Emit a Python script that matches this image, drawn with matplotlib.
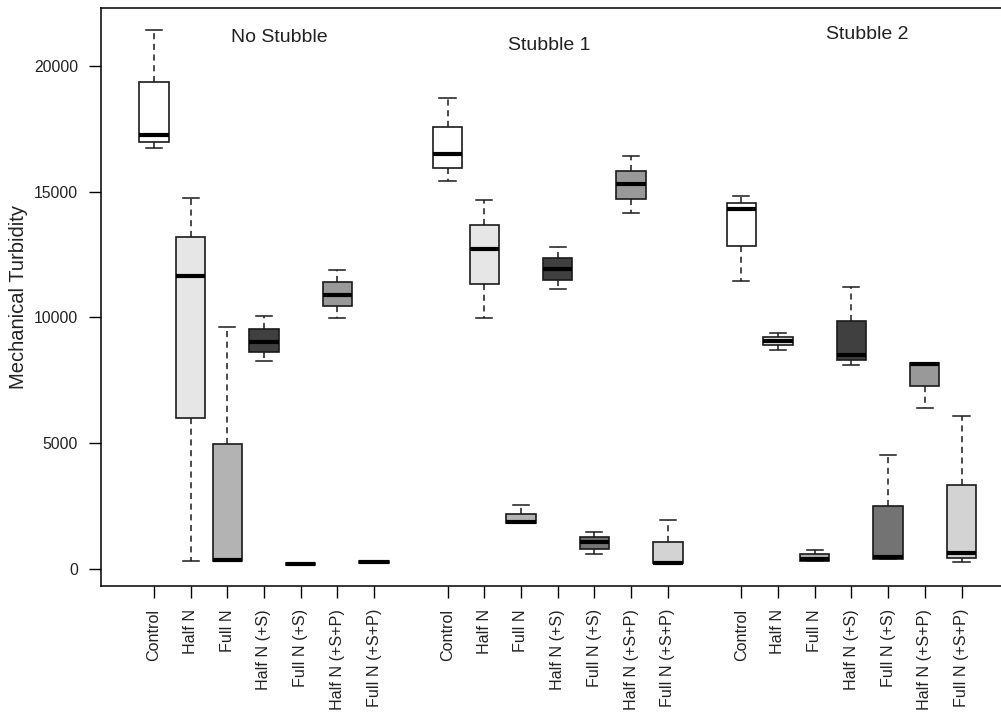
import matplotlib
matplotlib.use('Agg')
import matplotlib.pyplot as plt

plt.rcParams['font.family'] = ['Liberation Sans', 'DejaVu Sans']

treatments = ['Control', 'Half N', 'Full N', 'Half N (+S)', 'Full N (+S)',
              'Half N (+S+P)', 'Full N (+S+P)']
groups = ['No Stubble', 'Stubble 1', 'Stubble 2']
fills = ['#ffffff', '#e6e6e6', '#b3b3b3', '#404040', '#737373', '#999999', '#d3d3d3']

# five-number summaries, one list per group
# each row: whisker low, Q1, median, Q3, whisker high
no_stubble = [
    [16750, 16990, 17240, 19350, 21440],
    [310, 5990, 11650, 13200, 14740],
    [300, 330, 360, 4980, 9630],
    [8270, 8640, 9010, 9540, 10050],
    [160, 170, 200, 240, 250],
    [9990, 10450, 10890, 11400, 11900],
    [220, 230, 280, 320, 330],
]
stubble_1 = [
    [15440, 15940, 16500, 17590, 18740],
    [9990, 11330, 12710, 13690, 14680],
    [1820, 1840, 1850, 2200, 2540],
    [11150, 11490, 11920, 12350, 12790],
    [600, 800, 1060, 1280, 1480],
    [14170, 14700, 15300, 15840, 16430],
    [230, 240, 250, 1090, 1950],
]
stubble_2 = [
    [11440, 12840, 14310, 14550, 14840],
    [8710, 8920, 9080, 9240, 9400],
    [330, 330, 400, 600, 740],
    [8110, 8310, 8510, 9860, 11200],
    [400, 400, 460, 2500, 4530],
    [6390, 7290, 8140, 8180, 8200],
    [290, 430, 620, 3340, 6080],
]
all_groups = [no_stubble, stubble_1, stubble_2]
title_y = [21150, 20830, 21270]

fig = plt.figure(figsize=(10.01, 7.12), dpi=100)
ax = fig.add_axes([0.1009, 0.177, 0.9, 0.8118])

positions = []
stats = []
colors = []
labels = []
for g, rows in enumerate(all_groups):
    for i, r in enumerate(rows):
        positions.append(g * 8 + i + 1)
        stats.append(dict(whislo=r[0], q1=r[1], med=r[2], q3=r[3], whishi=r[4], fliers=[]))
        colors.append(fills[i])
        labels.append(treatments[i])

bp = ax.bxp(stats, positions=positions, widths=0.8, patch_artist=True,
            showfliers=False,
            boxprops=dict(edgecolor='#1a1a1a', linewidth=1.2),
            medianprops=dict(color='black', linewidth=3, solid_capstyle='butt'),
            whiskerprops=dict(color='#1a1a1a', linewidth=1.1, linestyle=(0, (4, 3))),
            capprops=dict(color='#1a1a1a', linewidth=1.1),
            capwidths=0.44)
for patch, c in zip(bp['boxes'], colors):
    patch.set_facecolor(c)

for g, name in enumerate(groups):
    xs = [g * 8 + i + 1 for i in range(len(treatments))]
    ax.text(sum(xs) / len(xs) + [0.43, -0.24, 0.43][g], title_y[g], name,
            ha='center', va='center', fontsize=14, color='#222222')

ax.set_xlim(-0.44, 24.1)
ax.set_ylim(-676, 22306)
ax.set_xticks(positions)
ax.set_xticklabels(labels, rotation=90, fontsize=11.6, color='#222222')
ax.set_yticks([0, 5000, 10000, 15000, 20000])
ax.tick_params(axis='y', labelsize=11.3, labelcolor='#222222', length=8.5, pad=8, width=1)
ax.tick_params(axis='x', length=8.5, pad=8, width=1)
ax.set_ylabel('Mechanical Turbidity', fontsize=14.5, labelpad=4, color='#222222')
ax.spines['right'].set_visible(False)
for s in ['left', 'top', 'bottom']:
    ax.spines[s].set_linewidth(1.1)

fig.savefig('out.png', dpi=100)
